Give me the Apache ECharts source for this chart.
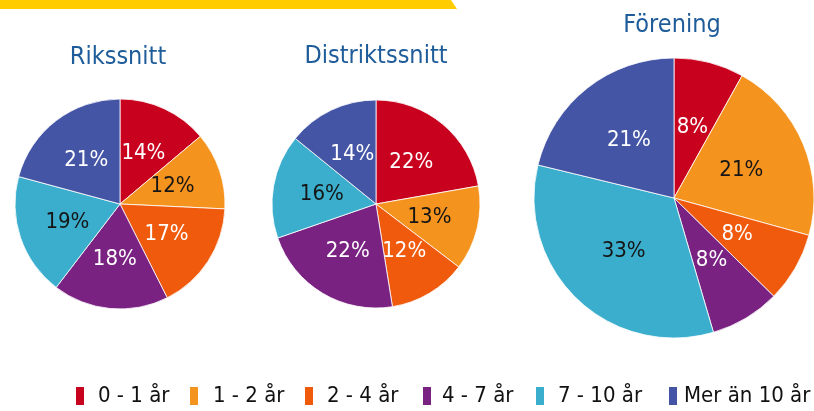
<!DOCTYPE html>
<html>
<head>
<meta charset="utf-8">
<script src="https://cdn.jsdelivr.net/npm/echarts@6/dist/echarts.min.js"></script>
<style>
html,body{margin:0;padding:0;background:#fff;}
#chart{width:814px;height:411px;}
</style>
</head>
<body>
<div id="chart"></div>
<script>
// ---- data ----
var categories = ['0 - 1 år', '1 - 2 år', '2 - 4 år', '4 - 7 år', '7 - 10 år', 'Mer än 10 år'];
var pieTitles = ['Rikssnitt', 'Distriktssnitt', 'Förening'];
var rikssnitt = [14, 12, 17, 18, 19, 21];
var distriktssnitt = [22, 13, 12, 22, 16, 14];
var forening = [8, 21, 8, 8, 33, 21];

// ---- styles ----
var colors = ['#C8011E', '#F5931F', '#F05A0C', '#7A2282', '#3AAECC', '#4455A6'];
var labelColors = ['#ffffff', '#151515', '#ffffff', '#ffffff', '#151515', '#ffffff'];
var FONT = '"DejaVu Sans Condensed", "DejaVu Sans", sans-serif';
var titleColor = '#1F5C9A';

function mkData(vals) {
  return categories.map(function (c, i) {
    return { name: c, value: vals[i], label: { color: labelColors[i] } };
  });
}

var pieCfg = [
  { data: rikssnitt, center: [120, 204], r: 105 },
  { data: distriktssnitt, center: [376, 204], r: 104 },
  { data: forening, center: [674, 198], r: 140 }
];

var series = pieCfg.map(function (p, k) {
  return {
    type: 'pie',
    name: pieTitles[k],
    center: p.center,
    radius: [0, p.r],
    startAngle: 90,
    clockwise: true,
    animation: false,
    silent: true,
    itemStyle: { borderColor: '#ffffff', borderWidth: 0.8 },
    label: {
      show: true,
      position: 'inside',
      formatter: '{c}%',
      fontFamily: FONT,
      fontSize: 22
    },
    labelLine: { show: false },
    emphasis: { disabled: true },
    data: mkData(p.data)
  };
});

var legendX = [74, 188, 303, 421, 534, 667];
var legendTextPad = [8, 9, 8, 5, 8, 1];
var legends = categories.map(function (c, i) {
  return {
    data: [c],
    left: legendX[i],
    top: 385,
    padding: 0,
    icon: 'rect',
    itemWidth: 10,
    itemHeight: 20,
    selectedMode: false,
    textStyle: {
      fontFamily: FONT,
      fontSize: 22,
      color: '#111111',
      padding: [0, 0, 0, legendTextPad[i]]
    }
  };
});

var titlePos = [[118, 57], [376, 56.5], [672, 25.5]];
var graphics = [
  {
    type: 'polygon',
    shape: { points: [[0, 0], [451, 0], [457, 9], [0, 9]] },
    style: { fill: '#FFCC00' }
  }
].concat(pieTitles.map(function (t, i) {
  return {
    type: 'text',
    x: titlePos[i][0],
    y: titlePos[i][1],
    style: {
      text: t,
      fill: titleColor,
      font: '25px ' + FONT,
      align: 'center',
      verticalAlign: 'middle'
    }
  };
}));

var chart = echarts.init(document.getElementById('chart'), null, { renderer: 'canvas' });
chart.setOption({
  animation: false,
  color: colors,
  legend: legends,
  graphic: graphics,
  series: series
});
</script>
</body>
</html>
